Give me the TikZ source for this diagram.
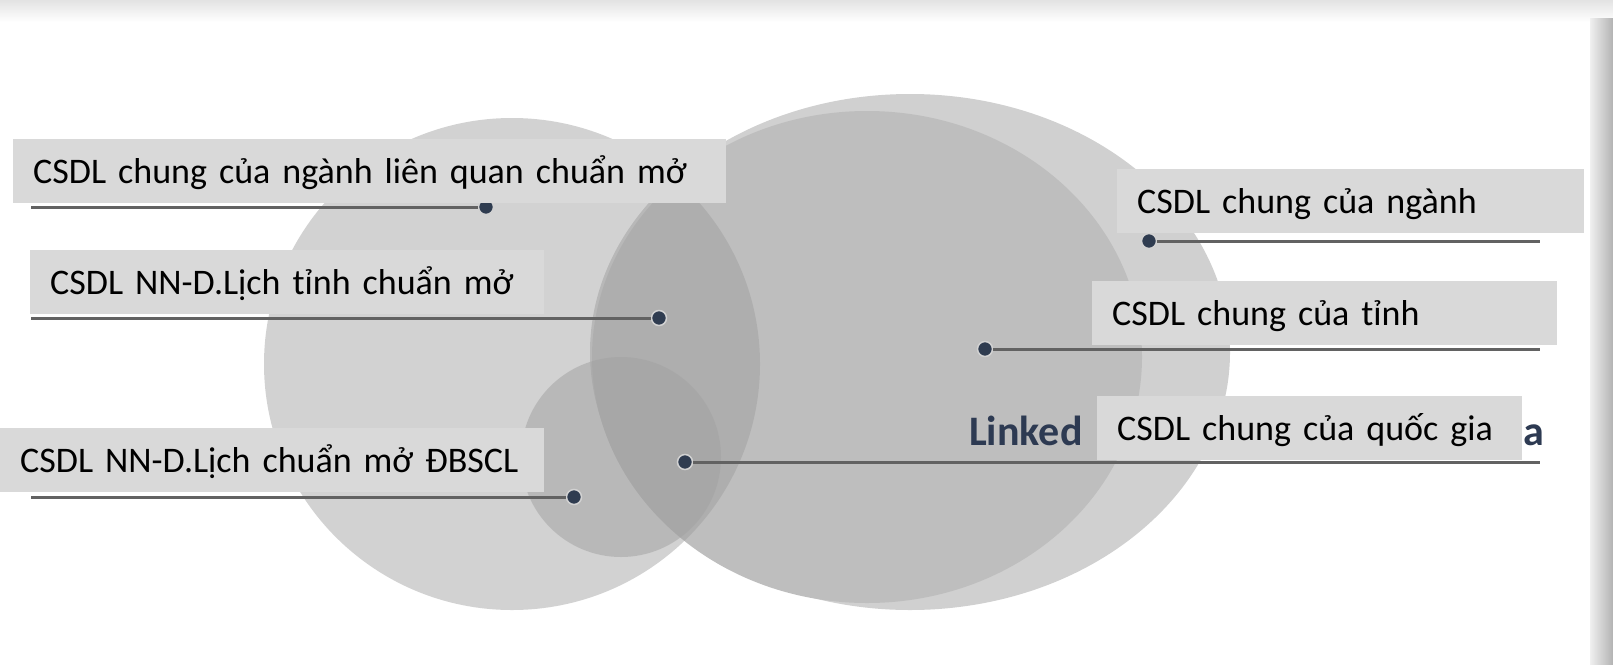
\documentclass[tikz,border=0pt]{standalone}
\usepackage{fontspec}
\setmainfont{Carlito}
\usepackage{xcolor}
\definecolor{boxgray}{RGB}{217,217,217}
\definecolor{backgray}{RGB}{208,208,208}
\definecolor{frontgray}{RGB}{190,190,190}
\definecolor{leftgray}{RGB}{156,156,156}
\definecolor{smallgray}{RGB}{162,162,162}
\definecolor{dotnavy}{RGB}{47,60,80}
\definecolor{leadgray}{RGB}{98,98,98}
\definecolor{linkblue}{RGB}{45,58,82}
\usepackage{tikz}
\tikzstyle{infobox} = [fill=boxgray, anchor=north west, align=left, inner xsep=20pt, inner ysep=0pt, minimum height=64pt, text height=30pt, text depth=6pt, font=\fontsize{36}{44}\selectfont]
\tikzstyle{hub} = [circle, fill=dotnavy, draw=gray!35, line width=1.5pt, inner sep=0pt, minimum size=15pt]
\tikzstyle{leader} = [leadgray, line width=3pt]
\tikzstyle{linked} = [anchor=base west, inner sep=0pt, text=linkblue, font=\fontsize{42}{48}\selectfont\bfseries]

\begin{document}
\begin{tikzpicture}[x=1pt, y=-1pt]
    \useasboundingbox (0,0) rectangle (1613,664);
    % screen frame
    \fill[white] (0,0) rectangle (1613,664);
    \shade[top color=gray!22, bottom color=white] (0,0) rectangle (1613,22);
    \shade[left color=gray!12, right color=gray!60] (1590,18) rectangle (1613,664);

    % discs
    \fill[backgray] (910,352) ellipse [x radius=320pt, y radius=258pt];
    \fill[frontgray] (867,357) ellipse [x radius=275pt, y radius=246pt];
    \fill[leftgray, fill opacity=0.446] (512,364) ellipse [x radius=248pt, y radius=246pt];
    \fill[smallgray, fill opacity=0.53] (621,457) circle [radius=100pt];

    \node[linked] (linked) at (969,445) {Linked};
    \node[linked] (tail) at (1523,445) {a};

    % leaders
    \coordinate (e1) at (31,207);
    \coordinate (e2) at (31,318);
    \coordinate (e3) at (31,497);
    \coordinate (e4) at (1540,241);
    \coordinate (e5) at (1540,349);
    \coordinate (e6) at (1540,462);
    \node[hub] (h1) at (486,207) {};
    \node[hub] (h2) at (659,318) {};
    \node[hub] (h3) at (574,497) {};
    \node[hub] (h4) at (1149,241) {};
    \node[hub] (h5) at (985,349) {};
    \node[hub] (h6) at (685,462) {};
    \draw[leader] (e1) -- (h1);
    \draw[leader] (e2) -- (h2);
    \draw[leader] (e3) -- (h3);
    \draw[leader] (h4) -- (e4);
    \draw[leader] (h5) -- (e5);
    \draw[leader] (h6) -- (e6);

    % labels
    \node[infobox, text width=673pt] (nganhlq) at (13,139) {\mbox{CSDL chung của ngành liên quan chuẩn mở}};
    \node[infobox, text width=474pt] (tinhmo) at (30,250) {\mbox{CSDL NN-D.Lịch tỉnh chuẩn mở}};
    \node[infobox, text width=504pt] (dbscl) at (0,428) {\mbox{CSDL NN-D.Lịch chuẩn mở ĐBSCL}};
    \node[infobox, text width=427pt] (nganh) at (1117,169) {\mbox{CSDL chung của ngành}};
    \node[infobox, text width=425pt] (tinh) at (1092,281) {\mbox{CSDL chung của tỉnh}};
    \node[infobox, text width=385pt] (quocgia) at (1097,396) {\mbox{CSDL chung của quốc gia}};
\end{tikzpicture}
\end{document}
